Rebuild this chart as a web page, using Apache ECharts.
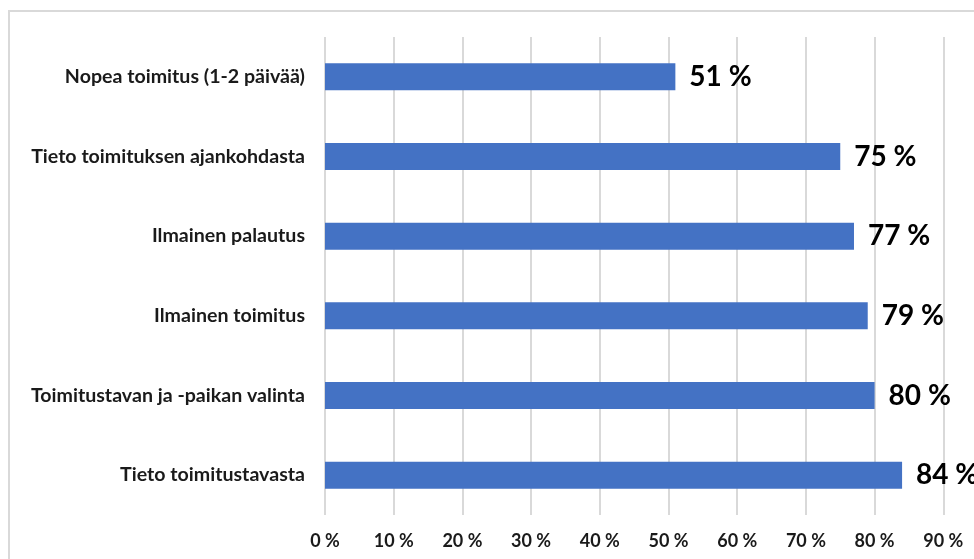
<!DOCTYPE html>
<html>
<head>
<meta charset="utf-8">
<script src="https://cdn.jsdelivr.net/npm/echarts@6/dist/echarts.min.js"></script>
<style>
  html, body { margin: 0; padding: 0; background: #fff; }
  #chart { width: 974px; height: 559px; }
</style>
</head>
<body>
<div id="chart"></div>
<script>
// Categories listed bottom to top, as the category axis draws them
const categories = [
  'Tieto toimitustavasta',
  'Toimitustavan ja -paikan valinta',
  'Ilmainen toimitus',
  'Ilmainen palautus',
  'Tieto toimituksen ajankohdasta',
  'Nopea toimitus (1-2 päivää)'
];
const shares = [84, 80, 79, 77, 75, 51];
const tickValues = [0, 10, 20, 30, 40, 50, 60, 70, 80, 90, 100];

const FONT = 'Lato, "Noto Sans", sans-serif';

const chart = echarts.init(document.getElementById('chart'));
chart.setOption({
  animation: false,
  backgroundColor: '#ffffff',
  graphic: [{
    type: 'rect',
    shape: { x: 9, y: 11, width: 1100, height: 700 },
    style: { fill: 'none', stroke: '#d9d9d9', lineWidth: 2 },
    silent: true
  }],
  grid: {
    left: 325, top: 37, right: -38, height: 478,
    containLabel: false,
    outerBoundsMode: 'none'
  },
  xAxis: {
    type: 'value',
    min: tickValues[0],
    max: tickValues[tickValues.length - 1],
    interval: tickValues[1] - tickValues[0],
    axisLine: { show: false },
    axisTick: { show: false },
    splitLine: { show: true, lineStyle: { color: '#d9d9d9', width: 2 } },
    axisLabel: {
      margin: 17,
      fontFamily: FONT,
      fontWeight: 'bold',
      fontSize: 18,
      color: '#1a1a1a',
      formatter: v => v + ' %'
    }
  },
  yAxis: {
    type: 'category',
    data: categories,
    axisLine: { show: false },
    axisTick: { show: false },
    splitLine: { show: false },
    axisLabel: {
      margin: 20,
      fontFamily: FONT,
      fontWeight: 'bold',
      fontSize: 19.6,
      color: '#1a1a1a'
    }
  },
  series: [{
    type: 'bar',
    data: shares,
    barWidth: 27,
    itemStyle: { color: '#4472C4' },
    label: {
      show: true,
      position: 'right',
      distance: 14,
      fontFamily: FONT,
      fontWeight: 'bold',
      fontSize: 28,
      color: '#000',
      formatter: p => p.value + ' %'
    }
  }]
});
</script>
</body>
</html>
